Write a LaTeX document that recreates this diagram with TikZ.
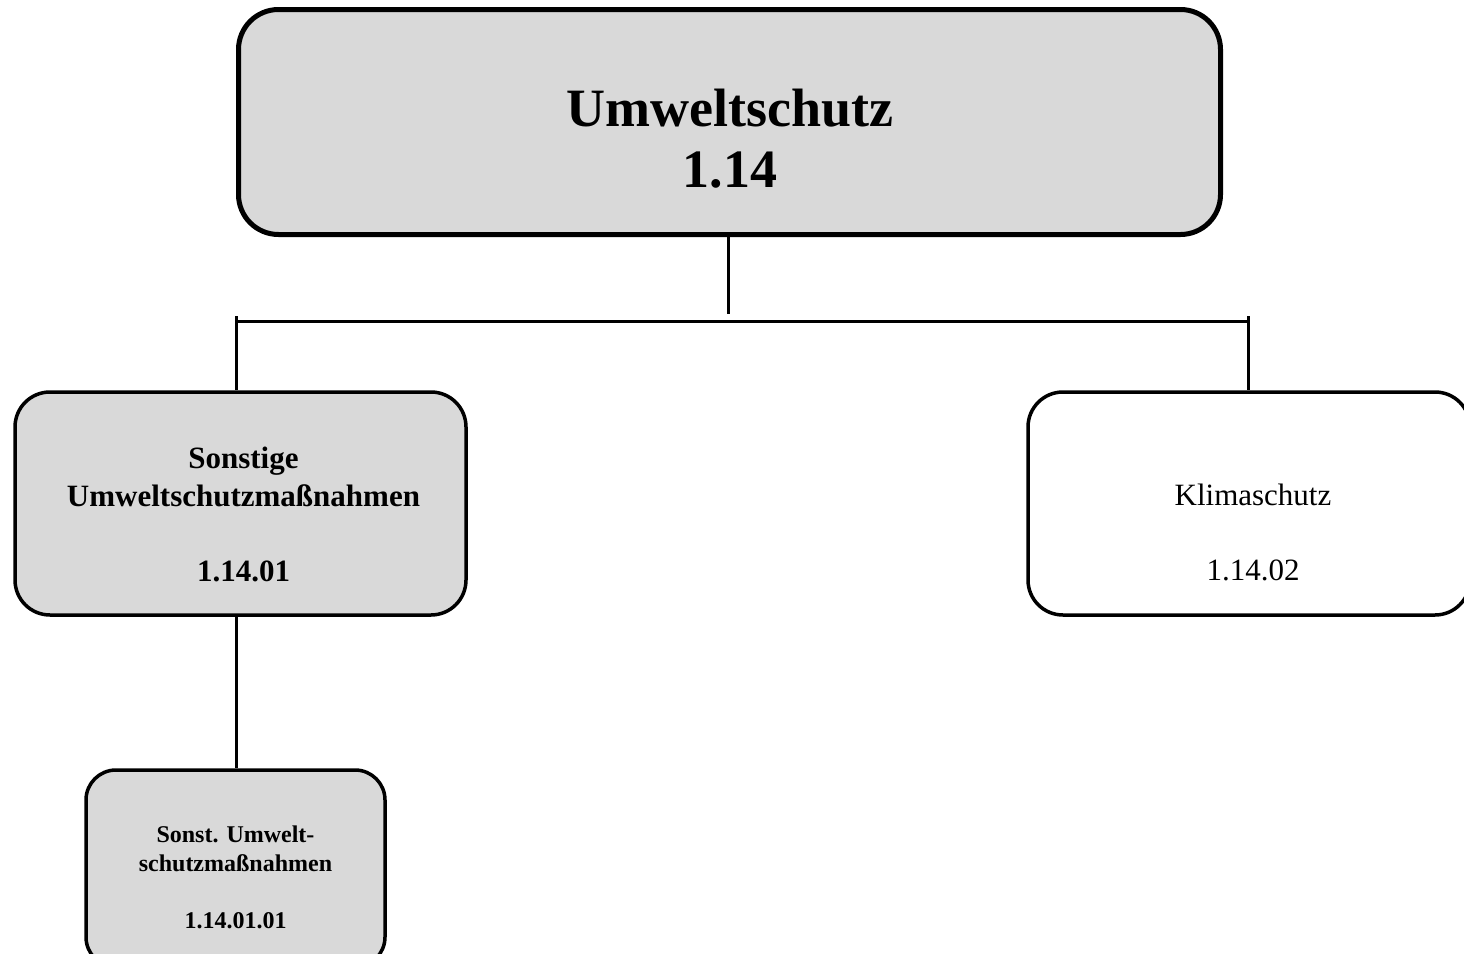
\documentclass[tikz,border=0pt]{standalone}
\usepackage{fontspec}
\setmainfont{Liberation Serif}
\definecolor{boxgray}{HTML}{D9D9D9}
\tikzset{
  orgbox/.style={draw=black, rounded corners=#1, inner sep=0pt},
  orgbox/.default=35pt,
  graybox/.style={orgbox=#1, fill=boxgray},
  graybox/.default=35pt,
  link/.style={draw=black, line width=3pt},
  boxtext/.style={align=center, inner sep=0pt, text=black}
}
\begin{document}
\begin{tikzpicture}[x=1pt, y=-1pt]
  \useasboundingbox (0,0) rectangle (1464,953);
  \clip (0,0) rectangle (1464,953);
  \fill[white] (0,0) rectangle (1464,953);

  % boxes
  \node[graybox=40pt, line width=5pt, minimum width=982pt, minimum height=225pt] (top) at (729.5,122) {};
  \node[graybox, line width=3.5pt, minimum width=451pt, minimum height=223pt] (left) at (240.5,503.5) {};
  \node[orgbox, fill=white, line width=3.5pt, minimum width=442pt, minimum height=223pt] (right) at (1249,503.5) {};
  \node[graybox=30pt, line width=3.5pt, minimum width=299pt, minimum height=197pt] (bottom) at (235.5,868.5) {};

  % box labels
  \node[boxtext, font=\fontsize{54}{61}\selectfont\bfseries] (toptext) at (730,139) {Umweltschutz\\1.14};
  \node[boxtext, font=\fontsize{31}{37.5}\selectfont\bfseries] (lefttext) at (243.5,514.5) {Sonstige\\Umweltschutzmaßnahmen\\[37.5pt]1.14.01};
  \node[boxtext, font=\fontsize{31}{37.5}\selectfont] (righttext) at (1253,532) {Klimaschutz\\[37.5pt]1.14.02};
  \node[boxtext, font=\fontsize{24}{28.5}\selectfont\bfseries] (bottomtext) at (235.5,877.5) {Sonst. Umwelt-\\schutzmaßnahmen\\[28.5pt]1.14.01.01};

  % connector bus
  \coordinate (trunk) at (728,314);
  \coordinate (busL) at (238,321);
  \coordinate (busR) at (1248,321);
  \coordinate (tickL) at (236,316);
  \coordinate (tickR) at (1248,316);

  \draw[link] (top.south -| trunk) -- (trunk);
  \draw[link] (busL) -- (busR);
  \draw[link] (tickL) -- (tickL |- left.north);
  \draw[link] (tickR) -- (tickR |- right.north);
  \draw[link] (tickL |- left.south) -- (tickL |- bottom.north);
\end{tikzpicture}
\end{document}
